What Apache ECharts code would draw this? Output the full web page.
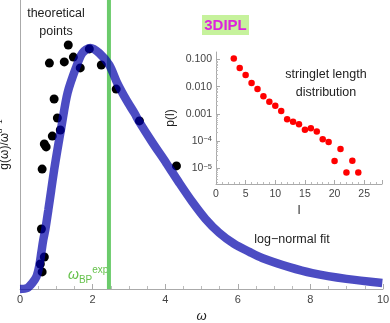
<!DOCTYPE html>
<html>
<head>
<meta charset="utf-8">
<script src="https://cdn.jsdelivr.net/npm/echarts@6/dist/echarts.min.js"></script>
<style>
html, body { margin: 0; padding: 0; background: #fff; }
#chart { width: 390px; height: 323px; }
</style>
</head>
<body>
<div id="chart"></div>
<script>
// theoretical points (omega, g/omega^(d-1))
var omegaPts = [1.33, 1.91, 0.81, 1.22, 1.47, 1.66, 2.24, 2.65, 0.94, 1.03, 1.11, 0.89, 0.72, 0.67, 3.29, 4.31, 0.61, 0.59, 0.67, 0.56, 0.61];
var gPts = [1.013, 0.997, 0.938, 0.943, 0.963, 0.918, 0.930, 0.830, 0.789, 0.710, 0.660, 0.635, 0.590, 0.602, 0.698, 0.511, 0.498, 0.249, 0.133, 0.104, 0.071];
// log-normal fit
var fitOmega = [0.00, 0.20, 0.34, 0.45, 0.53, 0.59, 0.64, 0.70, 0.78, 0.86, 0.94, 1.03, 1.14, 1.31, 1.55, 1.72, 1.94, 2.18, 2.46, 2.68, 2.93, 3.15, 3.29, 3.64, 4.03, 4.39, 4.75, 5.11, 5.49, 5.90, 6.32, 6.67, 7.42, 8.05, 8.99, 9.98];
var fitG = [0.000, 0.004, 0.025, 0.050, 0.095, 0.154, 0.203, 0.249, 0.328, 0.411, 0.494, 0.577, 0.673, 0.814, 0.922, 0.980, 1.001, 0.980, 0.930, 0.855, 0.785, 0.731, 0.693, 0.610, 0.523, 0.440, 0.361, 0.291, 0.233, 0.187, 0.154, 0.129, 0.091, 0.066, 0.042, 0.025];
// experimental boson peak
var omegaBP = 2.45;
var yTop = 1.2;

// inset: stringlet length distribution
var stringLen = [3, 4, 5, 6, 7, 8, 9, 10, 11, 12, 13, 14, 15, 16, 17, 18, 19, 20, 21, 22, 23, 24];
var stringProb = [0.11, 0.049, 0.027, 0.0137, 0.0082, 0.0044, 0.0028, 0.0020, 0.00126, 0.00063, 0.00051, 0.00041, 0.00026, 0.000295, 0.00022, 0.000115, 0.000091, 0.000018, 0.00005, 0.0000068, 0.0000185, 0.0000068];
var insetYTicks = [0.1, 0.01, 0.001, 0.0001, 0.00001];

var FONT = 'Liberation Sans';

function lg(v) {
    return Math.round(Math.log10(v) * 1e6) / 1e6;
}

var ptsData = [];
for (var i = 0; i < omegaPts.length; i++) ptsData.push([omegaPts[i], gPts[i]]);
var fitData = [];
for (var i = 0; i < fitOmega.length; i++) fitData.push([fitOmega[i], fitG[i]]);
var insetData = [];
for (var i = 0; i < stringLen.length; i++) insetData.push([stringLen[i], lg(stringProb[i])]);

var majorLog = insetYTicks.map(lg);
//minor ticks of the log axis
var minorLog = [];
for (var n = -6; n <= -1; n++) {
    for (var k = 2; k <= 9; k++) {
        var v = lg(k * Math.pow(10, n));
        if (v > -5.59 && v < -0.72) minorLog.push(v);
    }
}

var myChart = echarts.init(document.getElementById('chart'), null, { renderer: 'canvas' });
var option = {
    animation: false,
    textStyle: { fontFamily: FONT },
    grid: [
        { left: 20, right: 7, top: 0, bottom: 34, outerBoundsMode: 'none', containLabel: false },
        { left: 216, top: 52, width: 166, height: 132, outerBoundsMode: 'none', containLabel: false }
    ],
    xAxis: [{
        gridIndex: 0,
        type: 'value',
        min: 0,
        max: 10,
        interval: 2,
        name: 'ω',
        nameLocation: 'middle',
        nameGap: 19,
        nameTextStyle: { fontFamily: FONT, fontSize: 13, fontStyle: 'italic', color: '#222' },
        axisLine: { lineStyle: { color: '#aaa', width: 1 } },
        axisTick: { inside: true, length: 5, lineStyle: { color: '#aaa' } },
        minorTick: { show: true, splitNumber: 4, length: 3, lineStyle: { color: '#bbb' } },
        axisLabel: { fontSize: 11, color: '#444', margin: 5, fontFamily: FONT },
        splitLine: { show: false }
    }, {
        gridIndex: 1,
        type: 'value',
        min: 0,
        max: 28,
        interval: 5,
        name: 'l',
        nameLocation: 'middle',
        nameGap: 21,
        nameTextStyle: { fontFamily: FONT, fontSize: 12, color: '#222' },
        axisLine: { lineStyle: { color: '#aaa', width: 1 } },
        axisTick: { inside: true, length: 4, lineStyle: { color: '#aaa' } },
        minorTick: { show: true, splitNumber: 5, length: 2, lineStyle: { color: '#bbb' } },
        axisLabel: { fontSize: 10.5, color: '#444', margin: 5, showMaxLabel: false, fontFamily: FONT },
        splitLine: { show: false }
    }],
    yAxis: [{
        gridIndex: 0,
        type: 'value',
        min: 0,
        max: yTop,
        name: '{t|g(ω)/ω}{d|d}{s|−1}',
        nameLocation: 'middle',
        nameRotate: 90,
        nameGap: 7,
        nameTextStyle: {
            fontFamily: FONT,
            color: '#222',
            rich: {
                t: { fontSize: 12, lineHeight: 17, fontFamily: FONT, color: '#222' },
                d: { fontSize: 8, lineHeight: 8, verticalAlign: 'top', fontStyle: 'italic', fontFamily: FONT, color: '#222' },
                s: { fontSize: 8, lineHeight: 8, verticalAlign: 'top', fontFamily: FONT, color: '#222' }
            }
        },
        axisLine: { show: true, lineStyle: { color: '#aaa', width: 1 } },
        axisTick: { show: false },
        axisLabel: { show: false },
        splitLine: { show: false }
    }, {
        gridIndex: 1,
        type: 'value',
        position: 'left',
        min: -5.59,
        max: -0.72,
        name: 'p(l)',
        nameLocation: 'middle',
        nameRotate: 90,
        nameGap: 39,
        nameTextStyle: { fontFamily: FONT, fontSize: 12, color: '#222' },
        axisLine: { show: true, lineStyle: { color: '#aaa', width: 1 } },
        axisTick: { show: true, inside: true, length: 4, customValues: majorLog, lineStyle: { color: '#aaa' } },
        axisLabel: {
            customValues: majorLog,
            fontSize: 10.5,
            color: '#444',
            margin: 4,
            fontFamily: FONT,
            formatter: function(v) {
                var e = Math.round(v);
                if (e >= -3) return Math.pow(10, e).toFixed(3);
                return '10{s|−' + (-e) + '}';
            },
            rich: {
                s: { fontSize: 7.5, lineHeight: 7, verticalAlign: 'top', color: '#444', fontFamily: FONT }
            }
        },
        splitLine: { show: false }
    }, {
        // minor ticks of the log axis
        gridIndex: 1,
        type: 'value',
        position: 'left',
        offset: 0,
        min: -5.59,
        max: -0.72,
        axisLine: { show: false },
        axisTick: { show: true, inside: true, length: 2, customValues: minorLog, lineStyle: { color: '#bbb' } },
        axisLabel: { show: false },
        splitLine: { show: false }
    }],
    series: [{
        // green marker of the experimental boson peak
        type: 'line',
        xAxisIndex: 0,
        yAxisIndex: 0,
        data: [[omegaBP, 0], [omegaBP, yTop]],
        showSymbol: false,
        lineStyle: { color: '#6bcb6b', width: 4 },
        z: 1,
        silent: true
    }, {
        type: 'scatter',
        xAxisIndex: 0,
        yAxisIndex: 0,
        data: ptsData,
        symbolSize: 9,
        itemStyle: { color: '#000', opacity: 1 },
        z: 3,
        silent: true
    }, {
        type: 'line',
        xAxisIndex: 0,
        yAxisIndex: 0,
        data: fitData,
        smooth: 0.3,
        showSymbol: false,
        clip: false,
        lineStyle: { color: 'rgba(0,0,170,0.7)', width: 8.5 },
        z: 4,
        silent: true
    }, {
        type: 'scatter',
        xAxisIndex: 1,
        yAxisIndex: 1,
        data: insetData,
        symbolSize: 6.5,
        itemStyle: { color: '#ff0000', opacity: 1 },
        z: 5,
        silent: true
    }],
    graphic: [{
        type: 'text',
        style: {
            text: 'theoretical\npoints',
            x: 56, y: 5,
            align: 'center',
            verticalAlign: 'top',
            lineHeight: 18,
            font: '12.5px "Liberation Sans"',
            fill: '#222'
        }
    }, {
        type: 'text',
        style: {
            text: 'stringlet length\ndistribution',
            x: 326, y: 66,
            align: 'center',
            verticalAlign: 'top',
            lineHeight: 18,
            font: '12.5px "Liberation Sans"',
            fill: '#222'
        }
    }, {
        type: 'text',
        style: {
            text: 'log−normal fit',
            x: 292, y: 240,
            align: 'center',
            verticalAlign: 'middle',
            font: '12.5px "Liberation Sans"',
            fill: '#222'
        }
    }, {
        type: 'rect',
        shape: { x: 202, y: 15, width: 47, height: 20 },
        style: { fill: '#c6f29c' }
    }, {
        type: 'text',
        style: {
            text: '3DIPL',
            x: 225.5, y: 25.5,
            align: 'center',
            verticalAlign: 'middle',
            font: 'bold 15px "Liberation Sans"',
            fill: '#dd22dd'
        }
    }, {
        type: 'text',
        style: {
            text: '{w|ω}{b|BP}{e|exp}',
            x: 68, y: 265,
            align: 'left',
            verticalAlign: 'top',
            rich: {
                w: { fontSize: 14, lineHeight: 20, fontStyle: 'italic', fill: '#66c24c', fontFamily: FONT },
                b: { fontSize: 10, lineHeight: 10, verticalAlign: 'bottom', fill: '#66c24c', fontFamily: FONT },
                e: { fontSize: 10, lineHeight: 10, verticalAlign: 'top', fill: '#66c24c', fontFamily: FONT }
            }
        }
    }]
};
myChart.setOption(option);
</script>
</body>
</html>
